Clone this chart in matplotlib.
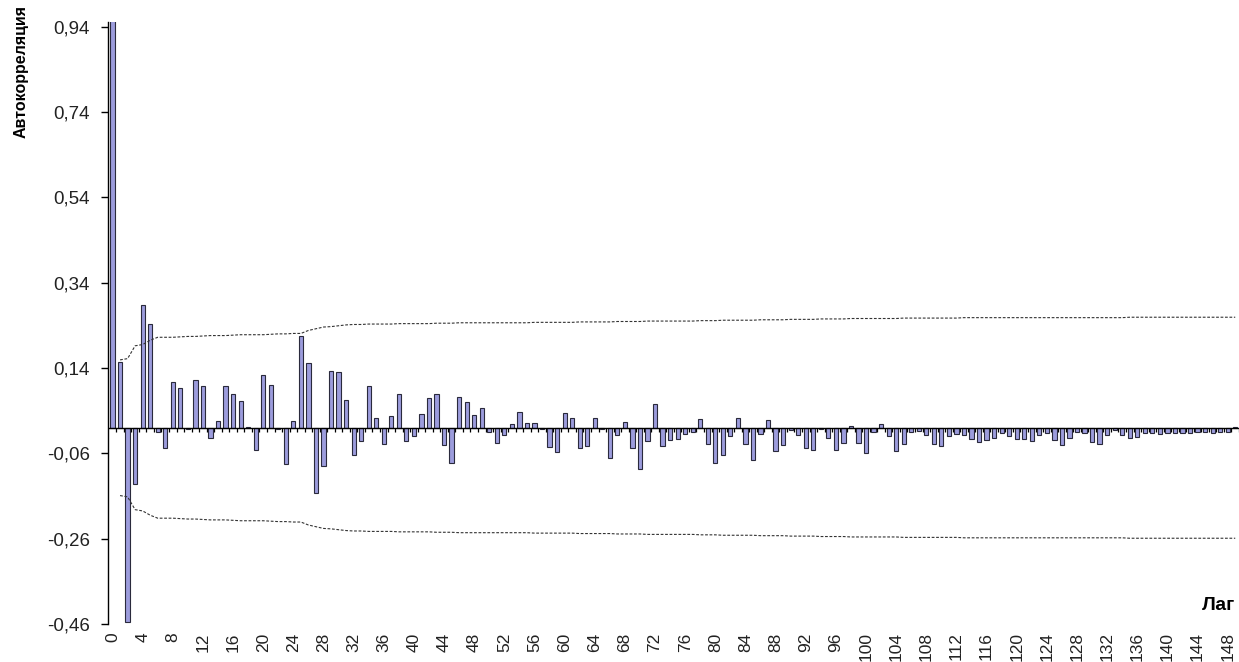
import numpy as np
import matplotlib
matplotlib.use("Agg")
import matplotlib.pyplot as plt

plt.rcParams.update({
    "font.family": ["Liberation Sans", "DejaVu Sans"],
    "font.size": 12,
})

# autocorrelation by lag (0..149)
acf = [
    1.000, 0.154, -0.455, -0.133, 0.288, 0.244, -0.011, -0.047, 0.108, 0.094,
    -0.002, 0.113, 0.098, -0.024, 0.016, 0.097, 0.078, 0.062, 0.002, -0.053,
    0.123, 0.101, -0.003, -0.085, 0.016, 0.214, 0.152, -0.152, -0.090, 0.133,
    0.131, 0.065, -0.063, -0.031, 0.098, 0.022, -0.037, 0.028, 0.080, -0.030,
    -0.019, 0.032, 0.070, 0.080, -0.041, -0.083, 0.072, 0.061, 0.029, 0.047,
    -0.009, -0.035, -0.016, 0.009, 0.037, 0.011, 0.011, -0.002, -0.045, -0.057,
    0.034, 0.022, -0.047, -0.043, 0.023, -0.002, -0.071, -0.017, 0.013, -0.047,
    -0.096, -0.030, 0.056, -0.043, -0.029, -0.027, -0.015, -0.009, 0.020, -0.039,
    -0.083, -0.065, -0.020, 0.023, -0.039, -0.075, -0.015, 0.018, -0.055, -0.041,
    -0.005, -0.016, -0.047, -0.053, -0.002, -0.023, -0.053, -0.035, 0.004, -0.035,
    -0.059, -0.010, 0.008, -0.020, -0.055, -0.039, -0.010, -0.008, -0.016, -0.039,
    -0.043, -0.020, -0.014, -0.018, -0.026, -0.034, -0.028, -0.024, -0.012, -0.020,
    -0.026, -0.026, -0.031, -0.018, -0.013, -0.028, -0.041, -0.024, -0.009, -0.013,
    -0.033, -0.038, -0.018, -0.006, -0.018, -0.023, -0.021, -0.013, -0.013, -0.015,
    -0.012, -0.013, -0.013, -0.013, -0.009, -0.010, -0.012, -0.010, -0.011, 0.002,
]
lags = list(range(len(acf)))

# upper confidence limit for lags 1..149
conf_upper = [
    0.159, 0.162, 0.192, 0.195, 0.205, 0.212, 0.212, 0.212, 0.213, 0.214,
    0.214, 0.215, 0.216, 0.216, 0.216, 0.217, 0.218, 0.218, 0.218, 0.218,
    0.219, 0.220, 0.220, 0.221, 0.221, 0.228, 0.232, 0.236, 0.237, 0.239,
    0.241, 0.242, 0.242, 0.243, 0.243, 0.243, 0.243, 0.244, 0.244, 0.244,
    0.244, 0.244, 0.245, 0.245, 0.245, 0.246, 0.246, 0.246, 0.246, 0.246,
    0.246, 0.246, 0.246, 0.246, 0.246, 0.247, 0.247, 0.247, 0.247, 0.247,
    0.247, 0.248, 0.248, 0.248, 0.248, 0.248, 0.249, 0.249, 0.249, 0.249,
    0.250, 0.250, 0.250, 0.250, 0.250, 0.250, 0.250, 0.251, 0.251, 0.251,
    0.252, 0.252, 0.252, 0.252, 0.252, 0.253, 0.253, 0.253, 0.253, 0.254,
    0.254, 0.254, 0.254, 0.255, 0.255, 0.255, 0.255, 0.256, 0.256, 0.256,
    0.256, 0.256, 0.256, 0.256, 0.257, 0.257, 0.257, 0.257, 0.257, 0.257,
    0.257, 0.257, 0.258, 0.258, 0.258, 0.258, 0.258, 0.258, 0.258, 0.258,
    0.258, 0.258, 0.258, 0.258, 0.258, 0.258, 0.258, 0.258, 0.258, 0.258,
    0.258, 0.258, 0.258, 0.258, 0.259, 0.259, 0.259, 0.259, 0.259, 0.259,
    0.259, 0.259, 0.259, 0.259, 0.259, 0.259, 0.259, 0.259, 0.259,
]
conf_lower = [-v for v in conf_upper]
conf_lags = lags[1:]

yticks = [-0.46, -0.26, -0.06, 0.14, 0.34, 0.54, 0.74, 0.94]
xticks = list(range(0, 149, 4))

fig = plt.figure(figsize=(12.39, 6.62), dpi=100)
ax = fig.add_axes([108 / 1239, 38 / 662, 1 - 108 / 1239, (624 - 22.4) / 662])

ax.bar(lags, acf, width=0.56, color="#9c9cdc", edgecolor="#2a2a3c", linewidth=0.8, zorder=2)
ax.plot(conf_lags, conf_upper, color="#333333", lw=0.8, ls=(0, (2.5, 1.5)), zorder=3)
ax.plot(conf_lags, conf_lower, color="#333333", lw=0.8, ls=(0, (2.5, 1.5)), zorder=3)

# zero line with category tick marks
ax.axhline(0, color="black", lw=1.0, zorder=4)
bounds = np.array(lags) + 0.5
ax.vlines(bounds, -0.010, 0, color="black", lw=0.9, zorder=1)

ax.set_xlim(-0.6, 149.5)
ax.set_ylim(-0.46, 0.95)
ax.set_yticks(yticks)
ax.set_yticklabels([f"{v:.2f}".replace(".", ",") for v in yticks], color="#222222", fontsize=13.5)
ax.set_xticks(xticks)
ax.set_xticklabels([str(v) for v in xticks], rotation=90, fontsize=12.5, color="#222222")
ax.tick_params(axis="x", length=0, pad=6)
ax.tick_params(axis="y", length=5, width=1, direction="out", pad=8)

for side in ("top", "right", "bottom"):
    ax.spines[side].set_visible(False)
ax.spines["left"].set_linewidth(1.0)

fig.text(21 / 1239, 1 - 71 / 662, "Автокорреляция", rotation=90, ha="center", va="center",
         fontsize=11.5, fontweight="bold")
fig.text(1219 / 1239, 1 - 606 / 662, "Лаг", ha="center", va="center",
         fontsize=14, fontweight="bold")

fig.savefig("out.png", dpi=100)
